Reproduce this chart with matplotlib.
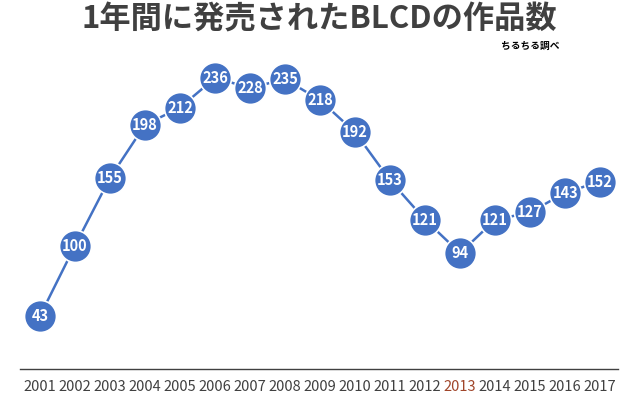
import matplotlib.pyplot as plt

plt.rcParams['font.family'] = ['Noto Sans CJK JP', 'DejaVu Sans']

years = [2001, 2002, 2003, 2004, 2005, 2006, 2007, 2008, 2009,
         2010, 2011, 2012, 2013, 2014, 2015, 2016, 2017]
counts = [43, 100, 155, 198, 212, 236, 228, 235, 218,
          192, 153, 121, 94, 121, 127, 143, 152]
highlight_year = 2013

blue = '#4472C4'

fig = plt.figure(figsize=(6.38, 4.0), dpi=100)
ax = fig.add_axes([20 / 638, 31 / 400, 598 / 638, 320.6 / 400])

ax.plot(years, counts, color=blue, linewidth=1.8, marker='o',
        markersize=23, markerfacecolor=blue, markeredgecolor='white',
        markeredgewidth=1.2, zorder=3)

for x, y in zip(years, counts):
    ax.text(x, y, str(y), ha='center', va='center', color='white',
            fontsize=10.5, fontweight='bold', zorder=4)

ax.set_xlim(2000.43, 2017.51)
ax.set_ylim(0, 260)
ax.set_yticks([])
ax.set_xticks(years)
ax.set_xticklabels([str(y) for y in years], fontsize=10.5, color='#404040')
for lbl, y in zip(ax.get_xticklabels(), years):
    if y == highlight_year:
        lbl.set_color('#A0452A')
ax.tick_params(axis='x', length=0, pad=8)

for side in ['top', 'right', 'left']:
    ax.spines[side].set_visible(False)
ax.spines['bottom'].set_color('#404040')
ax.spines['bottom'].set_linewidth(1)

fig.text(0.5, 1 - 20 / 400, '1年間に発売されたBLCDの作品数', ha='center', va='center',
         fontsize=22.5, fontweight='bold', color='#404040')
fig.text(530 / 638, 1 - 46 / 400, 'ちるちる調べ', ha='center', va='center',
         fontsize=7, fontweight='bold', color='black')

fig.savefig('out.png', dpi=100)
